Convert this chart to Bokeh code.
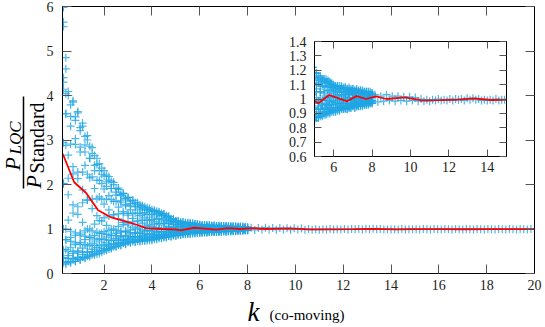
import math
from bokeh.plotting import figure
from bokeh.models import FixedTicker, LinearAxis, Label, Arrow, Range1d
from bokeh.layouts import column
from bokeh.embed import file_html
from bokeh.resources import INLINE

# ---------------- data ----------------
kA = [0.3, 0.5, 0.7, 0.9, 1.1, 1.3, 1.5, 1.7, 1.9, 2.1, 2.3, 2.5, 2.7, 2.9, 3.1, 3.3, 3.5, 3.7, 3.9,
      4.1, 4.3, 4.5, 4.7, 4.9, 5.1, 5.3, 5.5, 5.7, 5.9, 6.1, 6.3, 6.5, 6.7, 6.9, 7.1, 7.3, 7.5, 7.7, 7.9]
kB = [0.4, 0.6, 0.8, 1.0, 1.2, 1.4, 1.6, 1.8, 2.0, 2.2, 2.4, 2.6, 2.8, 3.0, 3.2, 3.4, 3.6, 3.8, 4.0,
      4.2, 4.4, 4.6, 4.8, 5.0, 5.2, 5.4, 5.6, 5.8, 6.0, 6.2, 6.4, 6.6, 6.8, 7.0, 7.2, 7.4, 7.6, 7.8, 8.0]

# realisations sampled on kA
run0 = [4.30, 4.09, 3.88, 3.61, 3.31, 3.00, 2.70, 2.45, 2.23, 2.06, 1.91, 1.76, 1.63, 1.52, 1.43, 1.36, 1.30, 1.25, 1.20,
        1.16, 1.12, 1.09, 1.05, 1.03, 1.01, 1.00, 0.99, 0.99, 0.98, 0.98, 0.97, 0.97, 0.97, 0.97, 0.97, 0.97, 0.97, 0.97, 0.98]
run2 = [2.02, 1.77, 1.54, 1.33, 1.15, 1.00, 0.96, 0.93, 0.90, 0.88, 0.86, 0.85, 0.84, 0.84, 0.83, 0.83, 0.82, 0.82, 0.81,
        0.82, 0.82, 0.83, 0.84, 0.86, 0.87, 0.88, 0.89, 0.90, 0.91, 0.91, 0.92, 0.93, 0.93, 0.94, 0.94, 0.95, 0.96, 0.96, 0.97]
run4 = [0.35, 0.34, 0.34, 0.35, 0.37, 0.39, 0.42, 0.44, 0.48, 0.52, 0.56, 0.60, 0.63, 0.67, 0.70, 0.72, 0.74, 0.76, 0.78,
        0.80, 0.82, 0.85, 0.87, 0.89, 0.91, 0.93, 0.94, 0.95, 0.96, 0.97, 0.97, 0.98, 0.99, 0.99, 1.00, 1.00, 1.00, 1.01, 1.01]
run6 = [0.35, 0.40, 0.45, 0.51, 0.57, 0.62, 0.68, 0.73, 0.78, 0.82, 0.86, 0.90, 0.93, 0.96, 0.98, 1.00, 1.04, 1.06, 1.09,
        1.11, 1.12, 1.13, 1.12, 1.11, 1.10, 1.09, 1.09, 1.09, 1.08, 1.07, 1.07, 1.07, 1.07, 1.07, 1.06, 1.06, 1.06, 1.05, 1.05]
run8 = [2.02, 2.14, 2.24, 2.28, 2.28, 2.23, 2.17, 2.10, 2.02, 1.96, 1.91, 1.83, 1.75, 1.69, 1.63, 1.59, 1.54, 1.50, 1.46,
        1.42, 1.39, 1.34, 1.28, 1.22, 1.18, 1.15, 1.13, 1.12, 1.10, 1.08, 1.07, 1.07, 1.06, 1.05, 1.04, 1.04, 1.03, 1.03, 1.02]
run11 = [2.94, 2.66, 2.40, 2.13, 1.88, 1.65, 1.46, 1.30, 1.18, 1.08, 1.00, 0.97, 0.95, 0.94, 0.92, 0.91, 0.90, 0.89, 0.88,
         0.87, 0.87, 0.87, 0.88, 0.88, 0.89, 0.90, 0.90, 0.91, 0.92, 0.92, 0.92, 0.93, 0.93, 0.94, 0.94, 0.95, 0.95, 0.96, 0.97]
run13 = [0.53, 0.50, 0.49, 0.48, 0.48, 0.48, 0.49, 0.50, 0.52, 0.55, 0.58, 0.61, 0.64, 0.66, 0.69, 0.70, 0.72, 0.73, 0.75,
         0.77, 0.79, 0.81, 0.84, 0.86, 0.88, 0.90, 0.91, 0.93, 0.94, 0.94, 0.95, 0.96, 0.97, 0.97, 0.98, 0.98, 0.99, 0.99, 1.00]
run15 = [0.24, 0.27, 0.32, 0.37, 0.43, 0.48, 0.54, 0.58, 0.64, 0.69, 0.74, 0.79, 0.82, 0.86, 0.89, 0.91, 0.93, 0.95, 0.97,
         0.98, 1.00, 1.02, 1.04, 1.04, 1.05, 1.05, 1.05, 1.06, 1.05, 1.05, 1.05, 1.05, 1.05, 1.05, 1.05, 1.05, 1.05, 1.05, 1.04]
run17 = [1.00, 1.20, 1.36, 1.50, 1.59, 1.65, 1.67, 1.68, 1.67, 1.67, 1.66, 1.62, 1.59, 1.55, 1.52, 1.50, 1.47, 1.45, 1.42,
         1.40, 1.37, 1.33, 1.28, 1.22, 1.18, 1.16, 1.14, 1.13, 1.11, 1.09, 1.09, 1.08, 1.07, 1.06, 1.06, 1.05, 1.04, 1.04, 1.03]
run19 = [4.14, 4.00, 3.85, 3.64, 3.38, 3.10, 2.83, 2.59, 2.37, 2.21, 2.07, 1.91, 1.78, 1.67, 1.57, 1.50, 1.43, 1.37, 1.32,
         1.27, 1.23, 1.18, 1.14, 1.10, 1.07, 1.05, 1.04, 1.02, 1.01, 1.01, 1.00, 1.00, 0.99, 0.99, 0.99, 0.98, 0.98, 0.98, 0.98]

# realisations sampled on kB
run1 = [3.59, 3.31, 3.03, 2.73, 2.43, 2.15, 1.91, 1.72, 1.56, 1.43, 1.32, 1.23, 1.15, 1.09, 1.04, 1.00, 0.98, 0.97, 0.95,
        0.94, 0.94, 0.93, 0.93, 0.93, 0.93, 0.93, 0.93, 0.93, 0.93, 0.94, 0.94, 0.94, 0.94, 0.95, 0.95, 0.95, 0.96, 0.96, 0.97]
run3 = [0.76, 0.72, 0.69, 0.66, 0.65, 0.64, 0.63, 0.62, 0.64, 0.65, 0.66, 0.68, 0.69, 0.71, 0.72, 0.73, 0.73, 0.74, 0.75,
        0.77, 0.79, 0.81, 0.83, 0.85, 0.87, 0.89, 0.90, 0.91, 0.92, 0.93, 0.94, 0.94, 0.95, 0.96, 0.96, 0.97, 0.98, 0.98, 0.99]
run5 = [0.21, 0.24, 0.27, 0.31, 0.36, 0.41, 0.46, 0.50, 0.56, 0.61, 0.66, 0.70, 0.74, 0.78, 0.81, 0.83, 0.85, 0.87, 0.89,
        0.92, 0.94, 0.95, 0.97, 0.98, 0.99, 1.00, 1.01, 1.02, 1.02, 1.02, 1.03, 1.03, 1.03, 1.03, 1.04, 1.04, 1.04, 1.03, 1.03]
run7 = [0.76, 0.81, 0.86, 0.91, 0.96, 1.00, 1.11, 1.19, 1.25, 1.29, 1.32, 1.34, 1.35, 1.35, 1.35, 1.35, 1.34, 1.33, 1.32,
        1.32, 1.30, 1.27, 1.22, 1.18, 1.16, 1.14, 1.14, 1.12, 1.10, 1.09, 1.09, 1.08, 1.08, 1.07, 1.06, 1.06, 1.05, 1.05, 1.04]
run9 = [3.59, 3.53, 3.44, 3.28, 3.08, 2.86, 2.65, 2.47, 2.31, 2.18, 2.05, 1.92, 1.80, 1.71, 1.63, 1.56, 1.49, 1.43, 1.39,
        1.35, 1.30, 1.25, 1.18, 1.14, 1.11, 1.09, 1.08, 1.06, 1.04, 1.03, 1.03, 1.02, 1.01, 1.01, 1.00, 1.00, 1.00, 1.00, 0.99]
run10 = [4.04, 3.79, 3.52, 3.21, 2.89, 2.59, 2.31, 2.09, 1.90, 1.75, 1.62, 1.49, 1.39, 1.31, 1.24, 1.18, 1.13, 1.09, 1.06,
         1.03, 1.00, 0.99, 0.98, 0.97, 0.97, 0.96, 0.96, 0.96, 0.96, 0.96, 0.95, 0.95, 0.95, 0.96, 0.96, 0.96, 0.96, 0.97, 0.97]
run12 = [1.00, 0.95, 0.91, 0.87, 0.84, 0.81, 0.78, 0.77, 0.76, 0.75, 0.75, 0.75, 0.76, 0.77, 0.77, 0.77, 0.77, 0.77, 0.77,
         0.79, 0.80, 0.82, 0.83, 0.85, 0.87, 0.88, 0.89, 0.90, 0.91, 0.92, 0.93, 0.93, 0.94, 0.95, 0.95, 0.96, 0.97, 0.97, 0.98]
run14 = [0.25, 0.26, 0.28, 0.31, 0.34, 0.38, 0.42, 0.45, 0.51, 0.55, 0.60, 0.64, 0.68, 0.72, 0.75, 0.77, 0.79, 0.81, 0.83,
         0.85, 0.88, 0.90, 0.92, 0.94, 0.95, 0.96, 0.97, 0.98, 0.99, 0.99, 1.00, 1.01, 1.01, 1.01, 1.02, 1.02, 1.02, 1.02, 1.02]
run16 = [0.54, 0.59, 0.65, 0.70, 0.76, 0.81, 0.85, 0.90, 0.94, 0.97, 1.00, 1.06, 1.10, 1.13, 1.16, 1.18, 1.20, 1.20, 1.21,
         1.22, 1.22, 1.20, 1.17, 1.15, 1.13, 1.12, 1.12, 1.11, 1.09, 1.09, 1.08, 1.08, 1.07, 1.07, 1.07, 1.06, 1.05, 1.05, 1.04]
run18 = [2.88, 2.91, 2.90, 2.84, 2.73, 2.59, 2.43, 2.31, 2.19, 2.10, 2.00, 1.89, 1.80, 1.71, 1.65, 1.59, 1.53, 1.48, 1.43,
         1.40, 1.35, 1.30, 1.23, 1.18, 1.14, 1.12, 1.11, 1.09, 1.07, 1.06, 1.05, 1.04, 1.04, 1.03, 1.02, 1.02, 1.01, 1.01, 1.01]

# isolated high points at the smallest k
k_peak = [0.3, 0.3, 0.3, 0.4, 0.4, 0.3]
v_peak = [5.98, 5.65, 5.55, 4.85, 4.60, 4.40]

# converged tail
k_tail = [8.15, 8.3, 8.45, 8.6, 8.75, 8.9, 9.05, 9.2, 9.35, 9.5, 9.65, 9.8, 9.95, 10.1, 10.25, 10.4, 10.55, 10.7, 10.85, 11.0,
          11.15, 11.3, 11.45, 11.6, 11.75, 11.9, 12.05, 12.2, 12.35, 12.5, 12.65, 12.8, 12.95, 13.1, 13.25, 13.4, 13.55, 13.7, 13.85, 14.0,
          14.15, 14.3, 14.45, 14.6, 14.75, 14.9,
          15.05, 15.2, 15.35, 15.5, 15.65, 15.8, 15.95, 16.1, 16.25, 16.4, 16.55, 16.7, 16.85, 17.0, 17.15, 17.3, 17.45,
          17.6, 17.75, 17.9, 18.05, 18.2, 18.35, 18.5, 18.65, 18.8, 18.95, 19.1, 19.25, 19.4, 19.55, 19.7, 19.85, 20.0]
v_tail = [1.03, 0.98, 1.02, 0.985, 1.03, 0.99, 1.02, 0.985, 1.02, 0.99, 1.015, 0.985, 1.015, 0.99, 1.01, 0.985, 1.0, 0.985, 0.995, 0.985,
          0.995, 0.99, 1.0, 0.99, 0.995, 0.99, 1.0, 0.99, 1.0, 0.995, 1.0, 0.99, 1.005, 0.995, 1.005, 0.995, 1.0, 0.99, 0.995, 0.99,
          0.995, 0.99, 1.0, 0.99, 0.995, 0.995,
          0.995, 0.99, 1.0, 0.995, 0.99, 1.0, 0.995, 0.99, 1.0, 0.995, 0.99, 1.0, 0.995, 0.99, 1.0, 0.995, 0.99,
          1.0, 0.995, 0.99, 1.0, 0.995, 0.99, 1.0, 0.995, 0.99, 1.0, 0.995, 0.99, 1.0, 0.995, 0.99, 1.0, 0.995]

# mean ratio (red line)
k_mean = [0.27, 0.75, 1.25, 1.75, 2.3, 2.9, 3.4, 3.75, 4.4, 4.96, 5.2, 5.76, 6.7, 7.18, 7.69, 8.2, 8.75, 9.7,
          10.6, 11.5, 12.5, 13.3, 14.2, 15.0, 16.0, 17.0, 18.0, 19.0, 20.0]
v_mean = [2.69, 2.05, 1.81, 1.42, 1.26, 1.17, 1.09, 1.02, 1.00, 0.99, 0.97, 1.028, 0.984, 1.02, 1.00, 1.019, 1.00, 1.012,
          0.99, 0.992, 0.995, 1.005, 0.993, 0.995, 0.995, 0.994, 0.995, 0.995, 0.995]

main_xticks = [2, 4, 6, 8, 10, 12, 14, 16, 18, 20]
main_yticks = [0, 1, 2, 3, 4, 5, 6]
inset_xticks = [6, 8, 10, 12, 14]
inset_yticks = [0.6, 0.7, 0.8, 0.9, 1.0, 1.1, 1.2, 1.3, 1.4]
inset_ylabels = {0.6: "0.6", 0.7: "0.7", 0.8: "0.8", 0.9: "0.9", 1.0: "1", 1.1: "1.1", 1.2: "1.2", 1.3: "1.3", 1.4: "1.4"}

runsA = [run0, run2, run4, run6, run8, run11, run13, run15, run17, run19]
runsB = [run1, run3, run5, run7, run9, run10, run12, run14, run16, run18]

# ---------------- styling ----------------
BLUE = "#1ea5e3"
RED = "#ff0000"
SERIF = "Liberation Serif"
TICKC = "#555555"

X0, X1, Y0, Y1 = 0.26, 20.0, 0.0, 6.0
W, H = 545, 327
BL, BR, BT, BB = 62, 11, 6, 54


def style_axis(ax, ticks, tick_len, labels=True):
    ax.ticker = FixedTicker(ticks=ticks)
    ax.major_tick_in = tick_len
    ax.major_tick_out = 0
    ax.minor_tick_line_color = None
    ax.major_tick_line_color = TICKC
    ax.axis_line_color = "black"
    if labels:
        ax.major_label_text_font = SERIF
        ax.major_label_text_font_size = "14px"
        ax.major_label_text_color = "#222222"
    else:
        ax.major_label_text_font_size = "0px"
        ax.major_label_text_color = None
        ax.major_label_standoff = 0


def draw_data(fig, size):
    for runs, ks in ((runsA, kA), (runsB, kB)):
        for r in runs:
            fig.scatter(ks, r, marker="cross", size=size, line_color=BLUE, line_alpha=0.8, line_width=1.2)
    fig.scatter(k_peak, v_peak, marker="cross", size=size, line_color=BLUE, line_alpha=0.8, line_width=1.2)
    fig.scatter(k_tail, v_tail, marker="cross", size=size, line_color=BLUE, line_alpha=0.8, line_width=1.2)
    fig.line(k_mean, v_mean, line_color=RED, line_width=1.8)


# ---------------- main figure ----------------
p = figure(width=W, height=H, x_range=Range1d(X0, X1), y_range=Range1d(Y0, Y1),
           output_backend="svg", toolbar_location=None, title=None, frame_align=False,
           min_border_left=BL, min_border_right=BR, min_border_top=BT, min_border_bottom=BB)
p.grid.visible = False
p.outline_line_color = "black"
draw_data(p, 8)

style_axis(p.xaxis[0], main_xticks, 9)
style_axis(p.yaxis[0], main_yticks, 9)
p.xaxis[0].major_label_standoff = 6
p.yaxis[0].major_label_standoff = 9
top_ax = LinearAxis()
style_axis(top_ax, main_xticks, 9, labels=False)
p.add_layout(top_ax, "above")
right_ax = LinearAxis()
style_axis(right_ax, main_yticks, 9, labels=False)
p.add_layout(right_ax, "right")

# ---------------- inset ----------------
IL, IT, IW, IH = 279, 33, 232, 147
q = figure(width=IW, height=IH, x_range=Range1d(5, 15), y_range=Range1d(0.6, 1.4),
           output_backend="svg", toolbar_location=None, title=None, frame_align=False,
           min_border_left=35, min_border_right=5, min_border_top=8, min_border_bottom=24,
           margin=(IT - H, 0, 0, IL))
q.grid.visible = False
q.outline_line_color = "black"
q.border_fill_alpha = 0.0
draw_data(q, 8)
style_axis(q.xaxis[0], inset_xticks, 7)
style_axis(q.yaxis[0], inset_yticks, 7)
q.yaxis[0].major_label_overrides = inset_ylabels
q.xaxis[0].major_label_standoff = 5
q.yaxis[0].major_label_standoff = 8
qt = LinearAxis()
style_axis(qt, inset_xticks, 7, labels=False)
q.add_layout(qt, "above")
qr = LinearAxis()
style_axis(qr, inset_yticks, 7, labels=False)
q.add_layout(qr, "right")

# ---------------- overlay for the axis titles (pixel-space ranges) ----------------
r = figure(width=W, height=H, x_range=Range1d(0, W), y_range=Range1d(H, 0),
           output_backend="svg", toolbar_location=None, title=None, frame_align=False,
           x_axis_type=None, y_axis_type=None,
           min_border=0, min_border_left=0, min_border_right=0, min_border_top=0, min_border_bottom=0,
           margin=(-(IT + IH), 0, 0, 0))
r.grid.visible = False
r.outline_line_color = None
r.background_fill_alpha = 0.0
r.border_fill_alpha = 0.0

MID = 0.34  # distance (in em) from the baseline up to the middle of the em box


def add_label(text, bx, by, size, style="normal", angle=0.0):
    # (bx, by): start of the text baseline; anchor the label at the middle of the em box
    if angle == 0.0:
        ax, ay = bx, by - MID * size
    else:
        ax, ay = bx - MID * size, by
    r.add_layout(Label(x=ax, y=ay, text=text, text_font=SERIF, text_font_size=f"{size}px",
                       text_font_style=style, text_color="black", angle=angle,
                       text_align="left", text_baseline="middle"))


# x-axis title
add_label("k", 247, 321, 27, style="italic")
add_label("(co-moving)", 269, 320, 15)

# y-axis title: fraction written bottom-to-top
A = math.pi / 2
add_label("P", 19.5, 170, 22, style="italic", angle=A)
add_label("LQC", 21, 154, 17, style="italic", angle=A)
r.add_layout(Arrow(end=None, x_start=23, y_start=188, x_end=23, y_end=96,
                   line_color="black", line_width=1.5))
add_label("P", 40.5, 188, 22, style="italic", angle=A)
add_label("Standard", 43.5, 173, 20, angle=A)

layout = column(p, q, r)
open("out.html", "w").write(file_html(layout, INLINE))
